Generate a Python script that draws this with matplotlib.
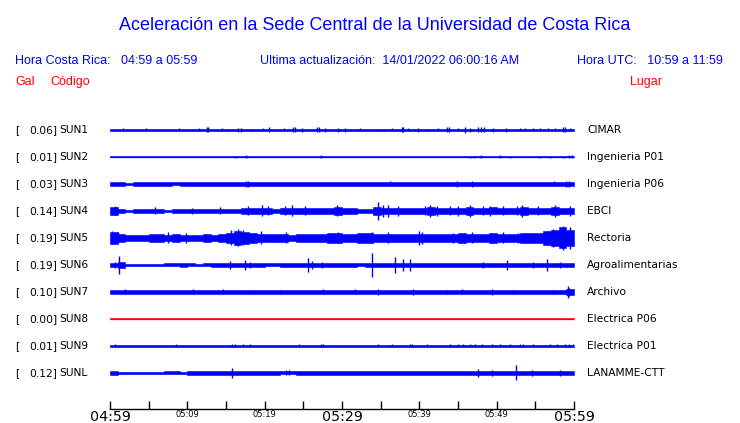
import numpy as np
import matplotlib
matplotlib.use('Agg')
from matplotlib import pyplot as plt

# station info
codes = ['SUN1', 'SUN2', 'SUN3', 'SUN4', 'SUN5', 'SUN6', 'SUN7', 'SUN8', 'SUN9', 'SUNL']
gals = [0.06, 0.01, 0.03, 0.14, 0.19, 0.19, 0.10, 0.00, 0.01, 0.12]
places = ['CIMAR', 'Ingenieria P01', 'Ingenieria P06', 'EBCI', 'Rectoria',
          'Agroalimentarias', 'Archivo', 'Electrica P06', 'Electrica P01', 'LANAMME-CTT']
trace_colors = ['blue'] * 7 + ['red'] + ['blue'] * 2

# time axis (minutes after 04:59)
tick_minutes = [0, 5, 10, 15, 20, 25, 30, 35, 40, 45, 50, 55, 60]
tick_labels = ['04:59', '', '05:09', '', '05:19', '', '05:29', '', '05:39', '', '05:49', '', '05:59']
big_labels = ['04:59', '05:29', '05:59']

# envelope half-amplitude per minute (pixels)
env_sun1 = [0.6, 0.6, 0.6, 0.6, 0.6, 0.6, 0.6, 0.6, 0.6, 0.6, 0.6, 0.6, 0.6, 0.6, 0.6,
            0.6, 0.6, 0.6, 0.6, 0.6, 0.6, 0.6, 0.6, 0.6, 0.6, 0.6, 0.6, 0.6, 0.6, 0.6,
            0.6, 0.6, 0.6, 0.6, 0.6, 0.6, 0.6, 0.6, 0.6, 0.6, 0.6, 0.6, 0.6, 0.6, 0.6,
            0.6, 0.6, 0.6, 0.6, 0.6, 0.6, 0.6, 0.6, 0.6, 0.6, 0.6, 0.6, 0.6, 0.6, 0.6]
env_sun2 = [0.5, 0.5, 0.5, 0.5, 0.5, 0.5, 0.5, 0.5, 0.5, 0.5, 0.5, 0.5, 0.5, 0.5, 0.5,
            0.5, 0.5, 0.5, 0.5, 0.5, 0.5, 0.5, 0.5, 0.5, 0.5, 0.5, 0.5, 0.5, 0.5, 0.5,
            0.5, 0.5, 0.5, 0.5, 0.5, 0.5, 0.5, 0.5, 0.5, 0.5, 0.5, 0.5, 0.5, 0.5, 0.5,
            0.5, 0.5, 0.5, 0.5, 0.5, 0.5, 0.5, 0.5, 0.5, 0.5, 0.5, 0.5, 0.5, 0.5, 0.5]
env_sun3 = [1.9, 1.9, 1.4, 1.9, 1.9, 1.6, 1.9, 1.9, 1.5, 1.9, 1.9, 1.9, 2.0, 2.0, 2.0,
            2.0, 2.0, 2.0, 2.0, 2.0, 2.0, 2.0, 2.0, 2.0, 2.0, 2.0, 2.0, 2.0, 2.0, 2.0,
            2.0, 2.0, 2.0, 2.0, 2.0, 2.0, 2.0, 2.0, 2.0, 2.0, 2.0, 2.0, 2.0, 2.0, 2.0,
            2.0, 2.0, 2.0, 2.0, 2.0, 2.0, 2.0, 2.0, 2.0, 2.0, 2.0, 2.0, 2.0, 2.2, 2.2]
env_sun4 = [3.8, 2.3, 1.4, 1.7, 1.6, 2.1, 1.8, 1.4, 1.7, 1.6, 2.0, 1.7, 1.7, 1.8, 2.1,
            1.8, 2.0, 2.6, 2.9, 3.4, 3.0, 2.4, 3.1, 3.4, 2.9, 3.0, 2.6, 3.0, 2.6, 3.6,
            2.7, 2.9, 2.4, 1.8, 3.6, 3.4, 3.4, 3.0, 2.7, 2.9, 3.4, 3.6, 3.3, 2.9, 3.1,
            3.4, 3.6, 3.0, 3.3, 3.5, 3.1, 2.9, 3.1, 3.6, 3.0, 3.1, 3.0, 3.6, 3.1, 3.4]
env_sun5 = [6.0, 3.6, 3.1, 3.4, 3.1, 3.6, 3.8, 3.1, 3.6, 3.1, 3.1, 3.4, 3.6, 3.4, 3.8,
            4.8, 6.6, 6.0, 5.4, 4.2, 3.8, 3.6, 3.6, 3.4, 3.6, 3.6, 4.1, 4.3, 4.8, 5.0,
            4.2, 4.1, 4.6, 4.8, 4.3, 4.1, 4.1, 4.3, 4.1, 4.1, 4.3, 4.2, 4.1, 4.3, 4.3,
            4.8, 4.3, 4.1, 4.3, 4.8, 4.3, 4.2, 4.3, 4.6, 4.6, 5.4, 6.6, 7.8, 10.5, 8.4]
env_sun6 = [2.0, 3.0, 0.8, 0.8, 0.8, 0.8, 0.8, 1.5, 1.5, 1.8, 1.5, 0.8, 1.5, 1.8, 1.8,
            1.8, 2.4, 2.2, 2.4, 1.8, 1.5, 1.5, 1.8, 2.2, 1.8, 1.8, 2.2, 2.2, 2.2, 2.2,
            2.2, 2.2, 1.5, 1.8, 2.4, 2.4, 2.4, 2.4, 2.4, 2.0, 2.2, 2.2, 2.0, 2.0, 2.2,
            2.2, 2.2, 2.2, 2.4, 2.2, 2.4, 2.2, 2.0, 2.4, 2.2, 2.4, 2.4, 2.2, 2.4, 2.2]
env_sun7 = [1.6, 1.9, 1.8, 1.6, 1.9, 1.8, 1.8, 1.9, 1.8, 1.6, 1.9, 1.8, 1.8, 1.9, 1.9,
            1.8, 1.8, 1.9, 1.8, 1.9, 1.8, 1.8, 1.9, 1.8, 1.9, 1.8, 1.8, 1.9, 1.8, 1.8,
            1.9, 1.9, 1.8, 1.8, 2.0, 1.9, 1.8, 1.9, 1.8, 1.9, 1.8, 1.8, 1.9, 1.9, 1.8,
            1.9, 1.8, 1.8, 1.9, 1.9, 1.8, 1.8, 1.9, 1.8, 1.8, 1.9, 1.8, 2.0, 2.4, 2.6]
env_sun8 = [0.5, 0.5, 0.5, 0.5, 0.5, 0.5, 0.5, 0.5, 0.5, 0.5, 0.5, 0.5, 0.5, 0.5, 0.5,
            0.5, 0.5, 0.5, 0.5, 0.5, 0.5, 0.5, 0.5, 0.5, 0.5, 0.5, 0.5, 0.5, 0.5, 0.5,
            0.5, 0.5, 0.5, 0.5, 0.5, 0.5, 0.5, 0.5, 0.5, 0.5, 0.5, 0.5, 0.5, 0.5, 0.5,
            0.5, 0.5, 0.5, 0.5, 0.5, 0.5, 0.5, 0.5, 0.5, 0.5, 0.5, 0.5, 0.5, 0.5, 0.5]
env_sun9 = [0.6, 0.6, 0.6, 0.6, 0.6, 0.6, 0.6, 0.6, 0.6, 0.6, 0.6, 0.6, 0.6, 0.6, 0.6,
            0.6, 0.6, 0.6, 0.6, 0.6, 0.6, 0.6, 0.6, 0.6, 0.6, 0.6, 0.6, 0.6, 0.6, 0.6,
            0.6, 0.6, 0.6, 0.6, 0.6, 0.6, 0.6, 0.6, 0.6, 0.6, 0.6, 0.6, 0.6, 0.6, 0.6,
            0.6, 0.6, 0.6, 0.6, 0.6, 0.6, 0.6, 0.6, 0.6, 0.6, 0.6, 0.6, 0.6, 0.6, 0.6]
env_sunl = [1.9, 1.2, 0.6, 0.6, 0.6, 0.6, 0.6, 1.5, 1.5, 1.2, 1.8, 1.8, 1.6, 1.8, 2.0,
            2.0, 2.0, 2.0, 2.0, 2.0, 2.0, 2.0, 1.5, 1.5, 2.0, 2.0, 2.0, 2.0, 2.0, 2.0,
            2.0, 2.0, 2.0, 2.0, 2.0, 2.0, 2.0, 2.0, 2.0, 2.0, 2.0, 2.0, 2.0, 2.0, 2.0,
            2.0, 2.0, 2.0, 2.0, 2.0, 2.0, 2.0, 2.0, 2.0, 2.0, 2.0, 2.0, 2.0, 2.0, 2.0]

# isolated peaks: (minute, half-amplitude in pixels)
spk_sun1 = [(1.7, 1.5), (4.7, 1.5), (8.9, 1.5), (11.5, 1.5), (12.5, 2.5), (12.7, 2.5),
            (14.5, 1.5), (15.3, 1.0), (16.6, 2.0), (16.9, 2.0), (18.2, 1.0), (19.8, 1.5),
            (20.6, 2.5), (22.5, 1.5), (23.7, 2.5), (23.9, 2.5), (24.8, 2.0), (26.8, 2.5),
            (27.0, 2.5), (27.8, 2.0), (29.5, 2.0), (30.4, 2.0), (32.3, 1.5), (34.5, 1.0),
            (35.6, 1.0), (36.5, 1.5), (37.7, 2.5), (37.9, 2.5), (38.5, 1.5), (39.8, 2.0),
            (41.1, 1.0), (42.4, 1.5), (43.6, 2.5), (43.9, 2.5), (45.0, 1.5), (45.9, 3.0),
            (46.6, 2.0), (47.6, 2.5), (48.0, 2.5), (48.3, 2.5), (49.5, 2.0), (51.2, 2.0),
            (53.0, 1.5), (53.7, 1.5), (54.7, 1.5), (55.6, 1.5), (56.6, 1.5), (57.5, 1.5),
            (58.6, 2.5), (58.9, 2.5), (59.5, 1.5)]
spk_sun2 = [(16.3, 1.0), (17.6, 1.5), (27.3, 1.5), (46.6, 1.0), (47.1, 1.0), (48.0, 1.5),
            (50.4, 1.5), (51.7, 1.0), (55.5, 1.0), (56.9, 1.0), (58.6, 1.0), (59.4, 1.5),
            (59.7, 1.5)]
spk_sun3 = [(17.6, 3.0), (17.8, 3.0), (36.2, 2.5), (44.9, 3.0), (46.8, 3.0), (57.4, 2.5),
            (59.0, 3.0), (59.4, 3.0)]
spk_sun4 = [(0.6, 4.5), (5.8, 3.5), (10.6, 3.0), (14.2, 3.5), (17.8, 4.5), (19.7, 5.5),
            (20.4, 4.5), (22.6, 4.5), (23.5, 5.5), (25.2, 4.5), (29.4, 5.5), (34.7, 9.0),
            (35.3, 6.0), (36.0, 6.0), (37.2, 5.0), (40.7, 4.5), (41.4, 6.0), (42.3, 5.0),
            (44.0, 4.5), (45.0, 5.0), (46.6, 6.0), (48.2, 4.5), (49.1, 5.0), (50.8, 4.5),
            (52.6, 4.5), (53.3, 6.0), (55.3, 4.5), (57.5, 6.0), (59.5, 5.0)]
spk_sun5 = [(0.3, 6.5), (1.0, 5.5), (7.5, 5.5), (9.8, 5.0), (15.6, 7.5), (16.5, 8.5),
            (17.2, 7.5), (19.5, 6.5), (22.8, 5.5), (29.5, 5.5), (33.9, 5.5), (36.0, 5.5),
            (40.0, 7.0), (40.4, 6.0), (44.4, 5.0), (46.8, 5.5), (50.8, 5.5), (52.8, 5.0),
            (56.6, 7.0), (57.3, 9.0), (58.6, 12.0), (59.5, 11.0)]
spk_sun6 = [(0.6, 3.0), (1.2, 9.0), (15.5, 4.0), (17.5, 5.0), (18.1, 3.0), (25.6, 7.0),
            (26.1, 4.0), (27.4, 3.0), (33.9, 12.0), (36.9, 8.0), (37.9, 6.0), (38.8, 6.0),
            (48.2, 3.0), (51.3, 5.0), (54.7, 3.0), (56.5, 6.0), (58.2, 3.0)]
spk_sun7 = [(1.9, 2.5), (10.7, 2.5), (14.6, 2.5), (18.5, 2.0), (22.0, 2.0), (27.5, 2.5),
            (31.7, 2.5), (34.7, 3.0), (39.2, 3.0), (43.6, 2.0), (45.5, 2.5), (49.4, 3.0),
            (52.1, 2.0), (57.3, 2.0), (59.2, 6.0), (59.4, 4.0)]
spk_sun8 = []
spk_sun9 = [(0.6, 1.5), (8.5, 1.5), (15.8, 1.5), (16.2, 1.5), (17.2, 1.5), (18.1, 1.5),
            (24.4, 1.5), (27.3, 1.5), (27.5, 1.5), (34.7, 1.5), (36.5, 1.5), (38.8, 1.5),
            (39.1, 1.5), (41.0, 1.5), (44.0, 1.5), (45.0, 1.5), (45.6, 1.5), (46.6, 1.5),
            (47.2, 1.5), (48.1, 1.5), (49.4, 1.5), (50.4, 1.5), (51.7, 1.5), (53.0, 1.5),
            (53.4, 1.5), (54.7, 1.5), (56.9, 1.5), (57.8, 1.5), (58.8, 1.5), (59.4, 1.5),
            (59.9, 1.5)]
spk_sunl = [(15.8, 5.0), (22.8, 2.5), (23.2, 2.5), (47.6, 4.0), (49.4, 3.0), (52.5, 7.5),
            (54.6, 3.0), (58.2, 3.0)]

envelopes = [env_sun1, env_sun2, env_sun3, env_sun4, env_sun5,
             env_sun6, env_sun7, env_sun8, env_sun9, env_sunl]
spikes = [spk_sun1, spk_sun2, spk_sun3, spk_sun4, spk_sun5,
          spk_sun6, spk_sun7, spk_sun8, spk_sun9, spk_sunl]

W, H = 740, 423
fig = plt.figure(figsize=(W / 100, H / 100), dpi=100)

def fx(px):
    return px / W

def fy(py):
    return 1 - py / H

BLUE = '#0000ff'
RED = '#ff0000'
hfont = 'Liberation Sans'
lfont = 'DejaVu Sans'

# header
fig.text(fx(375), fy(30), 'Aceleración en la Sede Central de la Universidad de Costa Rica',
         ha='center', va='baseline', color=BLUE, fontsize=13, family=hfont)
fig.text(fx(15), fy(64), 'Hora Costa Rica:   04:59 a 05:59', ha='left', va='baseline',
         color=BLUE, fontsize=9, family=hfont)
fig.text(fx(260), fy(64), 'Ultima actualización:  14/01/2022 06:00:16 AM', ha='left',
         va='baseline', color=BLUE, fontsize=9, family=hfont)
fig.text(fx(723), fy(64), 'Hora UTC:   10:59 a 11:59', ha='right', va='baseline',
         color=BLUE, fontsize=9, family=hfont)
fig.text(fx(15), fy(85), 'Gal', ha='left', va='baseline', color=RED, fontsize=9, family=hfont)
fig.text(fx(50), fy(85), 'Código', ha='left', va='baseline', color=RED, fontsize=9, family=hfont)
fig.text(fx(662), fy(85), 'Lugar', ha='right', va='baseline', color=RED, fontsize=9, family=hfont)

# traces, drawn in a pixel-like y space
ax = fig.add_axes([fx(110), 0, fx(574) - fx(110), 1])
ax.set_xlim(0, 60)
ax.set_ylim(H, 0)
ax.axis('off')

t = np.arange(61)
for i, code in enumerate(codes):
    y0 = 130 + 27 * i
    env = np.array(envelopes[i] + [envelopes[i][-1]])
    col = trace_colors[i]
    ax.plot([0, 60], [y0, y0], color=col, lw=0.9, solid_capstyle='butt')
    ax.fill_between(t, y0 - env, y0 + env, step='post', facecolor=col,
                    edgecolor=col, lw=0.4)
    if spikes[i]:
        sx = [s[0] for s in spikes[i]]
        sa = np.array([s[1] for s in spikes[i]])
        ax.vlines(sx, y0 - sa, y0 + sa, color=col, lw=1.0)

    fig.text(fx(15), fy(y0), '[', ha='left', va='center', fontsize=7.7, family=lfont)
    fig.text(fx(57), fy(y0), f'{gals[i]:.2f}]', ha='right', va='center', fontsize=7.7,
             family=lfont)
    fig.text(fx(59), fy(y0), code, ha='left', va='center', fontsize=7.7, family=lfont)
    fig.text(fx(587), fy(y0), places[i], ha='left', va='center', fontsize=7.7, family=lfont)

# time axis
tax = fig.add_axes([fx(110), fy(409), fx(574) - fx(110), 0.04])
tax.set_xlim(0, 60)
tax.patch.set_visible(False)
for s in ['top', 'left', 'right']:
    tax.spines[s].set_visible(False)
tax.spines['bottom'].set_linewidth(1.0)
tax.set_yticks([])
tax.set_xticks(tick_minutes)
tax.set_xticklabels(tick_labels)
tax.tick_params(axis='x', direction='in', length=6, width=1.0, pad=0.8)
for lbl in tax.get_xticklabels():
    lbl.set_fontsize(10.3 if lbl.get_text() in big_labels else 6)
    lbl.set_family(lfont)

fig.savefig('out.png', dpi=100)
